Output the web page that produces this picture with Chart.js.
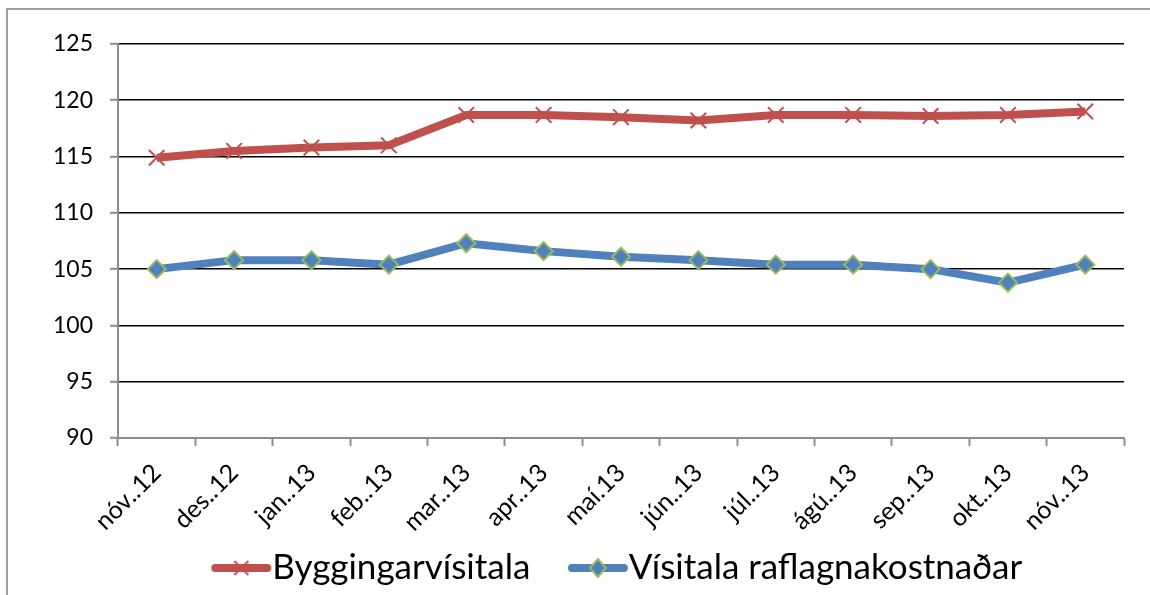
<!DOCTYPE html>
<html>
<head>
<meta charset="utf-8">
<style>
  body { margin: 0; background: #fff; overflow: hidden; }
  #wrap { position: relative; width: 1150px; height: 595px; overflow: hidden; }
  #frame { position: absolute; left: 6px; top: 8px; width: 1300px; height: 800px; border: 2px solid #a0a0a0; }
  canvas { position: absolute; left: 0; top: 0; }
</style>
</head>
<body>
<div id="wrap">
  <div id="frame"></div>
  <canvas id="myChart" width="1150" height="595"></canvas>
</div>
<script src="https://cdn.jsdelivr.net/npm/chart.js@4/dist/chart.umd.min.js"></script>
<script>
var months = ['nóv..12', 'des..12', 'jan..13', 'feb..13', 'mar..13', 'apr..13', 'maí.13',
              'jún..13', 'júl..13', 'ágú..13', 'sep..13', 'okt..13', 'nóv..13'];
var byggingarvisitala = [114.9, 115.5, 115.8, 116.0, 118.7, 118.7, 118.5, 118.2, 118.7, 118.7, 118.6, 118.7, 119.0];
var raflagnakostnadur = [105.0, 105.8, 105.8, 105.4, 107.3, 106.6, 106.1, 105.8, 105.4, 105.4, 105.0, 103.8, 105.4];
var yMin = 90, yMax = 125, yStep = 5;

var RED = '#C0504D', BLUE = '#4F81BD', GREEN = '#9BBB59';
var FONT = 'Lato, "Open Sans", sans-serif';
var LEG_FONT = 35;
var LEG_PAD = 54;

// legend symbol: thick line with the marker on it
function legendSymbol(color, marker) {
  var c = document.createElement('canvas');
  c.width = 62; c.height = 24;
  var g = c.getContext('2d');
  g.strokeStyle = color; g.lineWidth = 8; g.lineCap = 'round';
  g.beginPath(); g.moveTo(5, 12); g.lineTo(57, 12); g.stroke();
  if (marker == 'x') {
    g.lineWidth = 2; g.lineCap = 'butt';
    g.beginPath();
    g.moveTo(24, 5); g.lineTo(38, 19);
    g.moveTo(38, 5); g.lineTo(24, 19);
    g.stroke();
  } else {
    g.fillStyle = BLUE; g.strokeStyle = GREEN; g.lineWidth = 2;
    g.beginPath();
    g.moveTo(31, 3); g.lineTo(39, 12); g.lineTo(31, 21); g.lineTo(23, 12); g.closePath();
    g.fill(); g.stroke();
  }
  return c;
}
var symRed = legendSymbol(RED, 'x');
var symBlue = legendSymbol(BLUE, 'd');

// move the legend to where it sits in the original
var legendPlace = {
  id: 'legendPlace',
  afterLayout: function(chart) {
    var lg = chart.legend;
    var dy = (568 - LEG_PAD - LEG_FONT / 2) - lg.top;
    lg.top += dy; lg.bottom += dy;
    lg.left += 63; lg.right += 63;
  }
};

var ctx = document.getElementById('myChart').getContext('2d');
var myChart = new Chart(ctx, {
  type: 'line',
  data: {
    labels: months,
    datasets: [
      { label: 'Byggingarvísitala',
        data: byggingarvisitala,
        borderColor: RED, backgroundColor: RED,
        borderWidth: 8, tension: 0,
        pointStyle: 'crossRot', pointRadius: 11,
        pointBorderColor: RED, pointBorderWidth: 2,
        legendSym: symRed },
      { label: 'Vísitala raflagnakostnaðar',
        data: raflagnakostnadur,
        borderColor: BLUE, backgroundColor: BLUE,
        borderWidth: 8, tension: 0,
        pointStyle: 'rectRot', pointRadius: 9,
        pointBackgroundColor: BLUE, pointBorderColor: GREEN, pointBorderWidth: 2,
        legendSym: symBlue }
    ]
  },
  plugins: [legendPlace],
  options: {
    responsive: false,
    animation: false,
    layout: { padding: { top: 44, right: 26, left: 0, bottom: 595 - 438 - 100 - (LEG_FONT + LEG_PAD + 10) } },
    plugins: {
      tooltip: { enabled: false },
      legend: {
        position: 'bottom',
        labels: {
          usePointStyle: true,
          pointStyleWidth: 62 - LEG_FONT,
          padding: LEG_PAD,
          color: '#000',
          font: { family: FONT, size: LEG_FONT },
          generateLabels: function(chart) {
            return chart.data.datasets.map(function(ds, i) {
              return { text: ds.label, pointStyle: ds.legendSym, fontColor: '#000',
                       strokeStyle: ds.borderColor, fillStyle: ds.borderColor,
                       lineWidth: 0, datasetIndex: i };
            });
          }
        }
      }
    },
    scales: {
      x: {
        offset: true,
        afterFit: function(scale) { scale.height = 100; },
        border: { color: '#8c8c8c', width: 2 },
        grid: { offset: true, drawOnChartArea: false, drawTicks: true, tickLength: 8, tickColor: '#8c8c8c', tickWidth: 2 },
        ticks: { color: '#000', font: { family: FONT, size: 25 }, minRotation: 45, maxRotation: 45, padding: 12, autoSkip: false }
      },
      y: {
        min: yMin, max: yMax,
        afterFit: function(scale) { scale.width = 118; },
        border: { color: '#8c8c8c', width: 2 },
        grid: {
          color: function(c) { return c.tick && c.tick.value === yMin ? '#8c8c8c' : '#000'; },
          lineWidth: 1.6, tickLength: 8, tickColor: '#8c8c8c', tickWidth: 2
        },
        ticks: { stepSize: yStep, color: '#000', font: { family: FONT, size: 23 }, padding: 17 }
      }
    }
  }
});
</script>
</body>
</html>
